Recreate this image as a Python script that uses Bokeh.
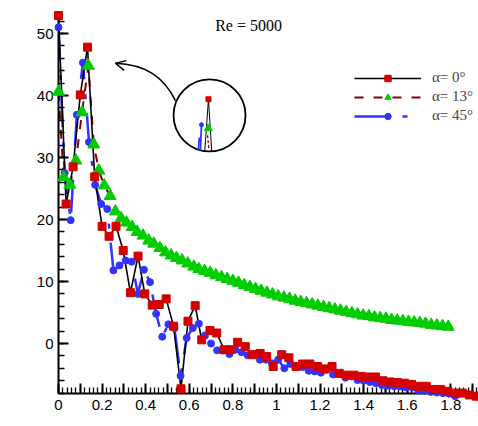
from math import pi
from bokeh.plotting import figure
from bokeh.models import Range1d, FixedTicker, Label, Legend, LegendItem, Arrow, OpenHead
from bokeh.embed import file_html
from bokeh.resources import INLINE

# ---------------- data ----------------
# alpha = 0 deg  (black line, red squares)
st_a0 = [0.000, 0.035, 0.067, 0.100, 0.133, 0.166, 0.200, 0.232, 0.264, 0.297,
         0.330, 0.365, 0.396, 0.430, 0.462, 0.494, 0.528, 0.562, 0.594, 0.627,
         0.657, 0.695, 0.726, 0.760, 0.788, 0.822, 0.857, 0.890, 0.925, 0.955,
         0.985, 1.024, 1.057, 1.090, 1.120, 1.153, 1.189, 1.222, 1.255, 1.288,
         1.321, 1.355, 1.388, 1.421, 1.454, 1.488, 1.521, 1.554, 1.587, 1.620,
         1.654, 1.687, 1.720, 1.753, 1.786, 1.820, 1.853, 1.886, 1.918]
spl_a0 = [52.9, 22.5, 28.5, 40.1, 47.8, 26.9, 18.9, 17.3, 18.9, 15.0,
          8.2, 14.1, 8.0, 6.2, 6.3, 7.2, 2.8, -7.3, 3.6, 6.1,
          0.6, 2.1, 1.7, -1.0, -1.0, 0.2, -0.5, -1.8, -1.6, -2.1,
          -3.7, -1.8, -2.3, -3.7, -3.3, -3.3, -3.7, -4.1, -3.7, -4.8,
          -5.1, -5.1, -5.3, -5.4, -5.4, -6.0, -6.2, -6.3, -6.4, -6.6,
          -6.9, -6.9, -7.4, -7.4, -7.7, -8.0, -8.0, -8.3, -8.5]

# alpha = 13 deg (maroon dashed line, green triangles)
st_a13 = [0.000, 0.024, 0.052, 0.080, 0.108, 0.137, 0.162, 0.185, 0.210, 0.237,
          0.261, 0.287, 0.312, 0.338, 0.361, 0.388, 0.414, 0.437, 0.465, 0.491,
          0.517, 0.541, 0.567, 0.593, 0.621, 0.644, 0.670, 0.696, 0.722, 0.748,
          0.774, 0.800, 0.826, 0.852, 0.878, 0.904, 0.930, 0.956, 0.982, 1.008,
          1.034, 1.060, 1.086, 1.112, 1.138, 1.164, 1.190, 1.216, 1.242, 1.268,
          1.294, 1.320, 1.346, 1.372, 1.398, 1.424, 1.450, 1.476, 1.502, 1.528,
          1.554, 1.580, 1.606, 1.632, 1.658, 1.684, 1.710, 1.736, 1.762, 1.788]
spl_a13 = [40.6, 26.8, 25.6, 29.5, 37.3, 44.8, 32.1, 27.9, 25.5, 23.8,
           21.3, 20.2, 19.5, 18.8, 18.0, 17.4, 16.6, 16.1, 15.4, 14.7,
           14.2, 13.8, 13.4, 12.9, 12.4, 12.0, 11.7, 11.4, 11.0, 10.7,
           10.4, 10.1, 9.8, 9.4, 9.1, 8.8, 8.5, 8.2, 7.9, 7.6,
           7.4, 7.2, 6.9, 6.7, 6.5, 6.3, 6.1, 5.9, 5.7, 5.5,
           5.3, 5.1, 4.9, 4.7, 4.5, 4.4, 4.2, 4.1, 4.0, 3.8,
           3.7, 3.6, 3.5, 3.4, 3.3, 3.2, 3.0, 2.9, 2.8, 2.7]

# alpha = 45 deg (blue dash-dot line, blue dots)
st_a45 = [0.000, 0.028, 0.056, 0.084, 0.112, 0.140, 0.168, 0.196, 0.224, 0.252,
          0.280, 0.308, 0.336, 0.364, 0.392, 0.420, 0.448, 0.476, 0.504, 0.532,
          0.560, 0.588, 0.616, 0.644, 0.672, 0.700, 0.728, 0.756, 0.784, 0.812,
          0.840, 0.868, 0.896, 0.924, 0.952, 0.980, 1.008, 1.036, 1.064, 1.092,
          1.120, 1.148, 1.176, 1.204, 1.232, 1.260, 1.288, 1.316, 1.344, 1.372,
          1.400, 1.428, 1.456, 1.484, 1.512, 1.540, 1.568, 1.596, 1.624, 1.652,
          1.680, 1.708, 1.736, 1.764, 1.792, 1.820]
spl_a45 = [51.0, 27.5, 19.9, 36.9, 45.3, 32.5, 25.6, 22.5, 21.7, 11.8,
           12.6, 13.4, 13.2, 8.0, 11.9, 9.9, 4.8, 1.1, 3.1, 2.5,
           -5.2, 0.9, 2.5, 3.2, 1.3, 0.0, -1.1, -1.1, -1.7, -1.0,
           -1.4, -1.9, -1.7, -2.6, -2.6, -3.2, -2.6, -4.0, -3.3, -3.8,
           -3.8, -4.4, -4.5, -4.7, -4.2, -5.0, -4.9, -5.5, -5.3, -5.9,
           -6.0, -6.2, -6.4, -6.7, -6.8, -6.9, -6.9, -7.1, -7.1, -7.6,
           -7.6, -7.8, -7.9, -8.0, -8.1, -8.5]

legend_labels = ["α= 0°", "α= 13°", "α= 45°"]
title_text = "Re = 5000"

# tick positions and labels
x_major = [0.0, 0.1, 0.2, 0.3, 0.4, 0.5, 0.6, 0.7, 0.8, 0.9,
           1.0, 1.1, 1.2, 1.3, 1.4, 1.5, 1.6, 1.7, 1.8, 1.9]
x_labels = ["0", "", "0.2", "", "0.4", "", "0.6", "", "0.8", "",
            "1", "", "1.2", "", "1.4", "", "1.6", "", "1.8", ""]
x_minor = [i * 0.02 for i in range(97)]
y_major = [0, 10, 20, 30, 40, 50]
y_minor = list(range(-8, 54, 2))

# ---------------- figure ----------------
p = figure(width=478, height=426,
           x_range=Range1d(0, 1.927), y_range=Range1d(-8.06, 53.23),
           output_backend="svg", toolbar_location=None,
           min_border_left=58, min_border_right=0,
           min_border_top=13, min_border_bottom=33)
p.xgrid.visible = False
p.ygrid.visible = False
p.outline_line_color = None
p.background_fill_color = "white"
p.border_fill_color = "white"

for ax in (p.xaxis[0], p.yaxis[0]):
    ax.axis_line_width = 2
    ax.axis_line_color = "black"
    ax.major_tick_in = 10
    ax.major_tick_out = 0
    ax.minor_tick_in = 6
    ax.minor_tick_out = 0
    ax.major_tick_line_width = 2
    ax.minor_tick_line_width = 1.3
    ax.major_tick_line_color = "black"
    ax.minor_tick_line_color = "black"
    ax.major_label_text_font = "Liberation Sans"
    ax.major_label_text_font_size = "15px"
    ax.major_label_text_color = "black"

p.xaxis[0].ticker = FixedTicker(ticks=x_major, minor_ticks=x_minor)
p.xaxis[0].major_label_overrides = dict(zip(x_major, x_labels))
p.xaxis[0].major_label_standoff = 6
p.yaxis[0].ticker = FixedTicker(ticks=y_major, minor_ticks=y_minor)
p.yaxis[0].major_label_standoff = 5

# series: blue (bottom), green, red (top)
l45 = p.line(st_a45, spl_a45, line_color="#3333ff", line_width=2.5, line_dash="33 15 5 14")
s45 = p.scatter(st_a45, spl_a45, marker="circle", size=7, fill_color="#3333ff",
                line_color="#3333ff", level="overlay")
l13 = p.line(st_a13, spl_a13, line_color="#800000", line_width=2, line_dash="9 10")
s13 = p.scatter(st_a13, spl_a13, marker="triangle", size=12, fill_color="#00cc00",
                line_color="#00cc00", level="overlay")
l0 = p.line(st_a0, spl_a0, line_color="black", line_width=1.6)
s0 = p.scatter(st_a0, spl_a0, marker="square", size=8, fill_color="#d40000",
               line_color="#d40000", level="overlay")

legend = Legend(items=[LegendItem(label=legend_labels[0], renderers=[l0, s0]),
                       LegendItem(label=legend_labels[1], renderers=[l13, s13]),
                       LegendItem(label=legend_labels[2], renderers=[l45, s45])],
                location=(296, 269), glyph_width=67, glyph_height=16,
                label_height=16, spacing=2, padding=0, margin=0,
                label_standoff=11, border_line_color=None,
                background_fill_alpha=0,
                label_text_font="Liberation Serif", label_text_font_size="15px")
p.add_layout(legend)

# title
p.add_layout(Label(x=0.872, y=51.3, text=title_text, text_align="center",
                   text_baseline="middle", text_font="Liberation Serif",
                   text_font_size="16px", text_color="black"))

# magnifier circle with a tiny sketch of the peak
p.scatter([0.693], [36.8], marker="circle", size=72, fill_color=None,
          line_color="black", line_width=1.8)
p.line([0.671, 0.688, 0.703], [31.0, 39.4, 31.0], line_color="black", line_width=1)
p.line([0.684, 0.690], [33.6, 31.3], line_color="#800000", line_width=1.3, line_dash="3 2")
p.line([0.656, 0.651], [35.3, 31.2], line_color="#3333ff", line_width=1.8)
p.line([0.642, 0.646], [31.2, 33.2], line_color="#3333ff", line_width=1.8)
p.scatter([0.656], [35.3], marker="circle", size=4, fill_color="#3333ff", line_color="#3333ff")
p.scatter([0.687], [34.7], marker="triangle", size=8, fill_color="#00cc00", line_color="#00cc00")
p.scatter([0.688], [39.4], marker="square", size=5, fill_color="#d40000", line_color="#d40000")

# curved pointer arrow
p.bezier(x0=[0.5367], y0=[39.19], x1=[0.2615], y1=[45.21],
         cx0=[0.4817], cy0=[43.06], cx1=[0.3991], cy1=[45.0],
         line_color="black", line_width=1.5)
p.add_layout(Arrow(end=OpenHead(size=10, line_width=1.5, line_color="black"),
                   x_start=0.275, y_start=45.1, x_end=0.2615, y_end=45.21,
                   line_width=1.5, line_color="black"))

# axis titles
p.add_layout(Label(x=-38, y=175, x_units="screen", y_units="screen", text="SPL",
                   angle=pi / 2, text_align="left", text_baseline="middle",
                   text_font="Liberation Serif", text_font_style="italic",
                   text_font_size="17px", text_color="black"))
p.add_layout(Label(x=-38, y=206, x_units="screen", y_units="screen", text="(db)",
                   angle=pi / 2, text_align="left", text_baseline="middle",
                   text_font="Liberation Serif", text_font_size="14px",
                   text_color="black"))
p.add_layout(Label(x=204, y=-21, x_units="screen", y_units="screen", text="St",
                   text_align="center", text_baseline="middle",
                   text_font="Liberation Serif", text_font_style="italic",
                   text_font_size="17px", text_color="black"))

open("out.html", "w").write(file_html(p, INLINE))
